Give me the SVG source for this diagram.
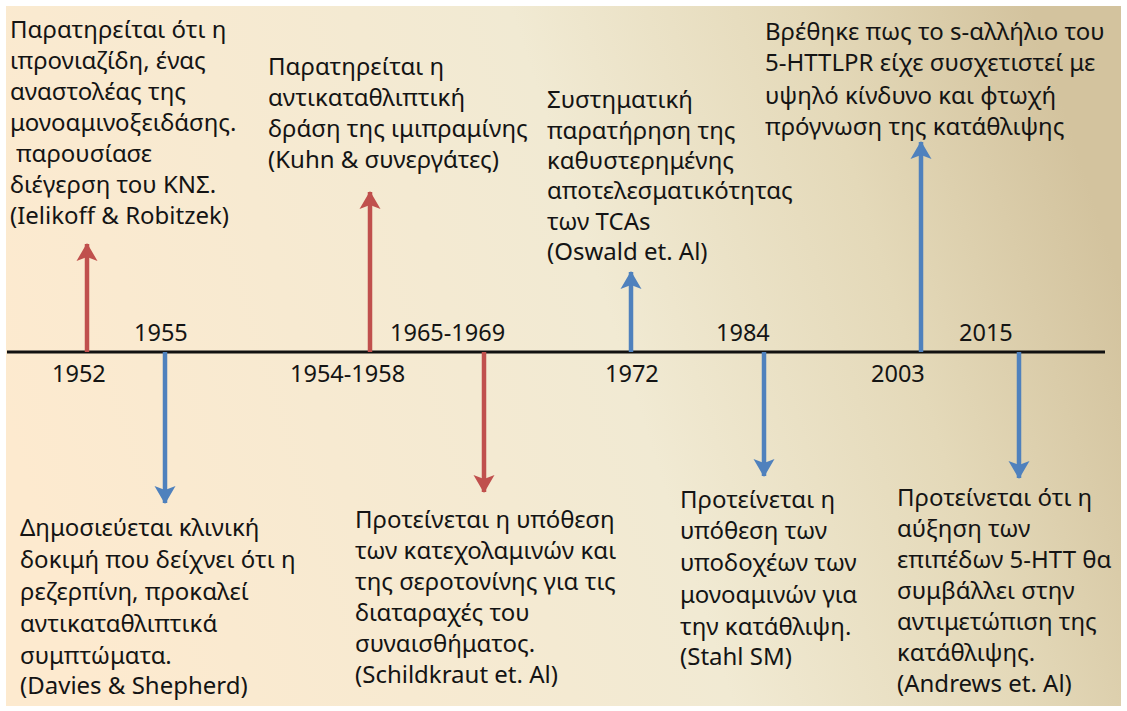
<svg xmlns="http://www.w3.org/2000/svg" width="1127" height="711" viewBox="0 0 1127 711">
<defs>
<linearGradient id="bg" x1="0" y1="0.6" x2="1" y2="0.4">
<stop offset="0" stop-color="#FDEACF"/>
<stop offset="0.55" stop-color="#F1EAD3"/>
<stop offset="0.8" stop-color="#E4D9B9"/>
<stop offset="1" stop-color="#D3C39E"/>
</linearGradient>
<marker id="ahR" markerUnits="userSpaceOnUse" markerWidth="24" markerHeight="24" viewBox="-18 -12 20 24" refX="0" refY="0" orient="auto">
<path d="M1,0 L-17,-10.5 L-13,0 L-17,10.5 Z" fill="#C0504D"/>
</marker>
<marker id="ahB" markerUnits="userSpaceOnUse" markerWidth="24" markerHeight="24" viewBox="-18 -12 20 24" refX="0" refY="0" orient="auto">
<path d="M1,0 L-17,-10.5 L-13,0 L-17,10.5 Z" fill="#4F81BD"/>
</marker>
<style>
text{font-family:"Noto Sans","Open Sans","DejaVu Sans",sans-serif;fill:#141414;}
.t{font-size:24px;}
.y{font-size:23.5px;}
.red{stroke:#C0504D;stroke-width:4.5;fill:none;marker-end:url(#ahR);}
.blue{stroke:#4F81BD;stroke-width:4.5;fill:none;marker-end:url(#ahB);}
</style>
</defs>
<rect x="0" y="0" width="1127" height="711" fill="#ffffff"/>
<rect x="6" y="6" width="1115" height="700" fill="url(#bg)"/>

<g id="connectors">
<line x1="7" y1="352" x2="1105" y2="352" stroke="#111" stroke-width="3"/>
<line class="red" x1="87" y1="352" x2="87" y2="244"/>
<line class="blue" x1="165" y1="352" x2="165" y2="503"/>
<line class="red" x1="370" y1="352" x2="370" y2="192"/>
<line class="red" x1="484" y1="352" x2="484" y2="492"/>
<line class="blue" x1="631" y1="352" x2="631" y2="272"/>
<line class="blue" x1="764" y1="352" x2="764" y2="476"/>
<line class="blue" x1="921" y1="352" x2="921" y2="142"/>
<line class="blue" x1="1019" y1="352" x2="1019" y2="478"/>
</g>

<g id="years">
<text class="y" x="52" y="382">1952</text>
<text class="y" x="134" y="341">1955</text>
<text class="y" x="290" y="382">1954-1958</text>
<text class="y" x="390" y="341">1965-1969</text>
<text class="y" x="605" y="382">1972</text>
<text class="y" x="716" y="341">1984</text>
<text class="y" x="871" y="382">2003</text>
<text class="y" x="959" y="341">2015</text>
</g>

<g id="n1952">
<text class="t" x="10" y="38">Παρατηρείται ότι η</text>
<text class="t" x="10" y="69">ιπρονιαζίδη, ένας</text>
<text class="t" x="10" y="100">αναστολέας της</text>
<text class="t" x="10" y="131">μονοαμινοξειδάσης.</text>
<text class="t" x="16" y="162">παρουσίασε</text>
<text class="t" x="10" y="193">διέγερση του ΚΝΣ.</text>
<text class="t" x="10" y="224">(Ielikoff &amp; Robitzek)</text>
</g>

<g id="n1955">
<text class="t" x="20" y="536">Δημοσιεύεται κλινική</text>
<text class="t" x="20" y="568">δοκιμή που δείχνει ότι η</text>
<text class="t" x="20" y="600">ρεζερπίνη, προκαλεί</text>
<text class="t" x="20" y="632">αντικαταθλιπτικά</text>
<text class="t" x="20" y="664">συμπτώματα.</text>
<text class="t" x="20" y="694">(Davies &amp; Shepherd)</text>
</g>

<g id="n1954">
<text class="t" x="268" y="75">Παρατηρείται η</text>
<text class="t" x="268" y="106">αντικαταθλιπτική</text>
<text class="t" x="268" y="137">δράση της ιμιπραμίνης</text>
<text class="t" x="268" y="168">(Kuhn &amp; συνεργάτες)</text>
</g>

<g id="n1965">
<text class="t" x="355" y="528">Προτείνεται η υπόθεση</text>
<text class="t" x="355" y="559">των κατεχολαμινών και</text>
<text class="t" x="355" y="590">της σεροτονίνης για τις</text>
<text class="t" x="355" y="621">διαταραχές του</text>
<text class="t" x="355" y="652">συναισθήματος.</text>
<text class="t" x="355" y="683">(Schildkraut et. Al)</text>
</g>

<g id="n1972">
<text class="t" x="547" y="108">Συστηματική</text>
<text class="t" x="547" y="139">παρατήρηση της</text>
<text class="t" x="547" y="169">καθυστερημένης</text>
<text class="t" x="547" y="199">αποτελεσματικότητας</text>
<text class="t" x="547" y="230">των TCAs</text>
<text class="t" x="547" y="260">(Oswald et. Al)</text>
</g>

<g id="n1984">
<text class="t" x="680" y="508">Προτείνεται η</text>
<text class="t" x="680" y="539">υπόθεση των</text>
<text class="t" x="680" y="571">υποδοχέων των</text>
<text class="t" x="680" y="603">μονοαμινών για</text>
<text class="t" x="680" y="635">την κατάθλιψη.</text>
<text class="t" x="680" y="665">(Stahl SM)</text>
</g>

<g id="n2003">
<text class="t" x="765" y="40">Βρέθηκε πως το s-αλλήλιο του</text>
<text class="t" x="765" y="71">5-HTTLPR είχε συσχετιστεί με</text>
<text class="t" x="765" y="104">υψηλό κίνδυνο και φτωχή</text>
<text class="t" x="765" y="135">πρόγνωση της κατάθλιψης</text>
</g>

<g id="n2015">
<text class="t" x="897" y="506">Προτείνεται ότι η</text>
<text class="t" x="897" y="537">αύξηση των</text>
<text class="t" x="897" y="568">επιπέδων 5-HTT θα</text>
<text class="t" x="897" y="599">συμβάλλει στην</text>
<text class="t" x="897" y="630">αντιμετώπιση της</text>
<text class="t" x="897" y="661">κατάθλιψης.</text>
<text class="t" x="897" y="692">(Andrews et. Al)</text>
</g>
</svg>
